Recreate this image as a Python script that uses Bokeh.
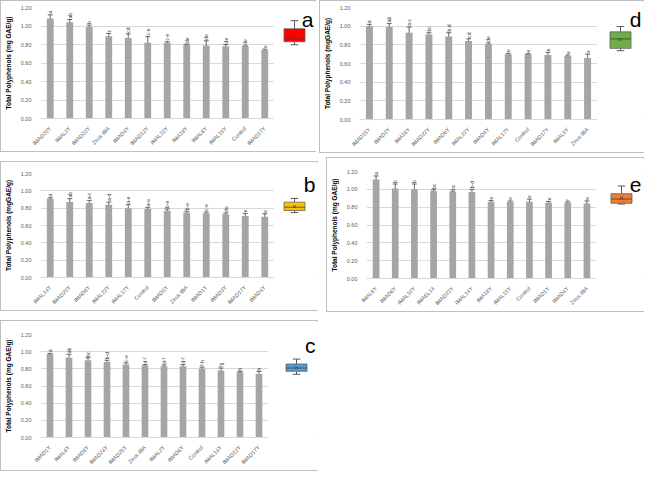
import numpy as np
from math import pi
from bokeh.plotting import figure
from bokeh.layouts import row, column
from bokeh.models import (FactorRange, Range1d, ColumnDataSource, Whisker, TeeHead,
                          NumeralTickFormatter, FixedTicker, Label)
from bokeh.embed import file_html
from bokeh.resources import INLINE
from bokeh.core.properties import value

# ---------------- data ----------------
a_labels = ["IMAD20Y", "IMAL2Y", "IMAD22Y", "Zeus IBA", "IMAD4Y", "IMAD12Y", "IMAL22Y",
            "IMA18Y", "IMAL6Y", "IMAL15Y", "Control", "IMAD17Y"]
a_values = [1.08, 1.04, 0.99, 0.89, 0.87, 0.82, 0.82, 0.80, 0.79, 0.78, 0.78, 0.74]
a_errors = [0.04, 0.03, 0.02, 0.03, 0.045, 0.065, 0.01, 0.005, 0.05, 0.02, 0.005, 0.01]
a_letters = ["a", "ab", "b", "c", "cd", "c-e", "c-e", "de", "de", "de", "de", "e"]

b_labels = ["IMAL14Y", "IMAD20Y", "IMAD8Y", "IMAL22Y", "IMAL17Y", "Control", "IMAD5Y",
            "Zeus IBA", "IMAD1Y", "IMAD3Y", "IMAD17Y", "IMAD4Y"]
b_values = [0.91, 0.87, 0.86, 0.84, 0.80, 0.79, 0.77, 0.75, 0.74, 0.73, 0.71, 0.70]
b_errors = [0.01, 0.04, 0.03, 0.03, 0.04, 0.02, 0.02, 0.015, 0.015, 0.015, 0.03, 0.035]
b_letters = ["a", "ab", "a-c", "a-d", "a-e", "a-e", "b-e", "b-e", "c-e", "de", "e", "e"]

c_labels = ["IMAD1Y", "IMAL6Y", "IMAD8Y", "IMAD24Y", "IMAD25Y", "Zeus IBA", "IMAL2Y",
            "IMAD6Y", "Control", "IMAL14Y", "IMAD12Y", "IMAD17Y"]
c_values = [0.97, 0.93, 0.90, 0.88, 0.85, 0.84, 0.83, 0.83, 0.80, 0.78, 0.76, 0.74]
c_errors = [0.01, 0.04, 0.03, 0.02, 0.02, 0.01, 0.015, 0.02, 0.02, 0.03, 0.01, 0.03]
c_letters = ["a", "ab", "bc", "b-d", "c-e", "d-f", "d-f", "d-f", "f-h", "fg", "h", "h"]

d_labels = ["IMAD15Y", "IMAD2Y", "IMA16Y", "IMAD22Y", "IMAD6Y", "IMAL22Y", "IMAD4Y",
            "IMAL17Y", "Control", "IMAD17Y", "IMAL5Y", "Zeus IBA"]
d_values = [1.00, 0.99, 0.93, 0.91, 0.89, 0.84, 0.81, 0.70, 0.70, 0.69, 0.68, 0.66]
d_errors = [0.02, 0.04, 0.06, 0.02, 0.04, 0.025, 0.01, 0.01, 0.005, 0.03, 0.01, 0.04]
d_letters = ["a", "ab", "a-c", "bc", "b-d", "cd", "de", "e", "e", "e", "e", "e"]

e_labels = ["IMAL6Y", "IMAD6Y", "IMAL10Y", "IMAEL14", "IMAD22Y", "IMAL14Y", "IMA18Y",
            "IMAL15Y", "Control", "IMAD1Y", "IMAD4Y", "Zeus IBA"]
e_values = [1.11, 1.01, 1.00, 0.98, 0.97, 0.97, 0.86, 0.86, 0.86, 0.85, 0.85, 0.84]
e_errors = [0.04, 0.05, 0.06, 0.015, 0.01, 0.03, 0.015, 0.01, 0.03, 0.015, 0.01, 0.03]
e_letters = ["a", "b", "b", "bc", "bc", "b-d", "e", "e", "e", "e", "f", "e"]

y_ticks = [0.0, 0.2, 0.4, 0.6, 0.8, 1.0, 1.2]

# ---------------- layout (reference pixels) ----------------
S = 0.97
def px(v):
    return int(round(v * S))

FONT = "Liberation Sans"
GRID = "#D9D9D9"
TXT = "#595959"

def make_panel(labels, vals, errs, letters, ylabel, color, tag, L):
    W = px(L["w"]) - 2
    H = px(L["h"]) - 2
    bar_w = px(L["fr"])
    box_w = W - bar_w
    up = [v + e for v, e in zip(vals, errs)]
    lo = [v - e for v, e in zip(vals, errs)]
    src = ColumnDataSource(dict(x=labels, top=vals, up=up, lo=lo,
                                ly=[u + 0.012 for u in up], let=letters))
    p = figure(x_range=FactorRange(*labels), y_range=Range1d(0, 1.2),
               width=bar_w, height=H, output_backend="svg", toolbar_location=None,
               min_border_left=px(L["fl"]), min_border_right=0,
               min_border_top=px(L["ft"]), min_border_bottom=px(L["fb"]))
    p.outline_line_color = None
    p.xgrid.grid_line_color = None
    p.ygrid.grid_line_color = GRID
    p.ygrid.ticker = FixedTicker(ticks=y_ticks)
    p.vbar(x="x", top="top", width=0.35, source=src, fill_color="#A5A5A5",
           line_color=None)
    w = Whisker(base="x", upper="up", lower="lo", source=src, line_color="#404040",
                line_width=0.8,
                upper_head=TeeHead(size=5, line_color="#404040", line_width=0.8),
                lower_head=TeeHead(size=5, line_color="#404040", line_width=0.8))
    p.add_layout(w)
    p.text(x="x", y="ly", text="let", angle=pi / 2, source=src, text_font_size="5px",
           text_align="left", text_baseline="middle", text_color="#404040",
           text_font=value(FONT))
    ya = p.yaxis[0]
    ya.ticker = FixedTicker(ticks=y_ticks)
    ya.formatter = NumeralTickFormatter(format="0.00")
    ya.axis_line_color = None
    ya.major_tick_line_color = None
    ya.minor_tick_line_color = None
    ya.major_label_text_font_size = "5.5px"
    ya.major_label_text_color = TXT
    ya.major_label_text_font = FONT
    ya.major_label_standoff = 3
    ya.axis_label = ylabel
    ya.axis_label_text_font_size = "6.5px"
    ya.axis_label_text_font_style = "bold"
    ya.axis_label_text_color = "#000000"
    ya.axis_label_text_font = FONT
    ya.axis_label_standoff = 6
    xa = p.xaxis[0]
    xa.axis_line_color = GRID
    xa.major_tick_line_color = None
    xa.major_label_orientation = pi / 4
    xa.major_label_text_font_size = "5.5px"
    xa.major_label_text_color = TXT
    xa.major_label_text_font = FONT
    xa.major_label_standoff = 3

    # box plot of the panel's values
    q1, med, q3 = np.percentile(vals, [25, 50, 75], method="weibull")
    mean = float(np.mean(vals))
    vmin, vmax = min(vals), max(vals)
    bw = px(22)
    cx = px(L["bc"] - L["fr"])
    ppu = 100 * S
    hi = vmax + px(L["wt"]) / ppu
    x0, x1 = -cx / bw, (box_w - cx) / bw
    b = figure(width=box_w, height=H, output_backend="svg", toolbar_location=None,
               x_range=Range1d(x0, x1),
               y_range=Range1d(hi - H / ppu, hi), min_border=0)
    b.axis.visible = False
    b.grid.grid_line_color = None
    b.outline_line_color = None
    b.segment(x0=[0, 0], y0=[q3, q1], x1=[0, 0], y1=[vmax, vmin], line_color=TXT,
              line_width=1)
    b.segment(x0=[-0.18, -0.18], y0=[vmax, vmin], x1=[0.18, 0.18], y1=[vmax, vmin],
              line_color=TXT, line_width=1)
    b.vbar(x=[0], top=[q3], bottom=[q1], width=1, fill_color=color, line_color="#606060",
           line_width=0.8)
    b.segment(x0=[-0.5], y0=[med], x1=[0.5], y1=[med], line_color="#404040", line_width=0.8)
    b.scatter(x=[0], y=[mean], marker="x", size=4, line_color="#404040", line_width=0.8)
    b.add_layout(Label(x=x1 - px(4) / bw, y=hi - px(L["lb"]) / ppu,
                       text=tag, text_align="right", text_baseline="alphabetic",
                       text_font_size="21px", text_font=FONT, text_color="#000000"))
    return row(p, b, width=W, height=H, styles={"border": "1px solid #BFBFBF"})


LA = dict(w=328, h=159, fl=33, fr=281, ft=6, fb=25, bc=302, wt=19, lb=18)
LB = dict(w=330, h=157, fl=31, fr=281, ft=11, fb=24, bc=302, wt=37, lb=17)
LC = dict(w=330, h=158, fl=31, fr=275, ft=13, fb=23, bc=304, wt=37, lb=17)
LD = dict(w=337, h=160, fl=32, fr=286, ft=6, fb=26, bc=310, wt=27, lb=18)
LE = dict(w=330, h=162, fl=27, fr=277, ft=13, fb=30, bc=303, wt=22, lb=21)

pa = make_panel(a_labels, a_values, a_errors, a_letters, "Total Polyphenols (mg GAE/g)",
                "#FF0000", "a", LA)
pb = make_panel(b_labels, b_values, b_errors, b_letters, "Total Polyphenols (mgGAE/g)",
                "#FFC000", "b", LB)
pc = make_panel(c_labels, c_values, c_errors, c_letters, "Total Polyphenols (mg GAE/g)",
                "#5B9BD5", "c", LC)
pd_ = make_panel(d_labels, d_values, d_errors, d_letters, "Total Polyphenols (mgGAE/g)",
                 "#70AD47", "d", LD)
pe = make_panel(e_labels, e_values, e_errors, e_letters, "Total Polyphenols (mg GAE/g)",
                "#ED7D31", "e", LE)
pe.margin = (0, 0, 0, px(7))

left = column(pa, pb, pc, spacing=px(9))
right = column(pd_, pe, spacing=px(4))
layout = row(left, right, spacing=px(1))

open("out.html", "w").write(file_html(layout, INLINE))
